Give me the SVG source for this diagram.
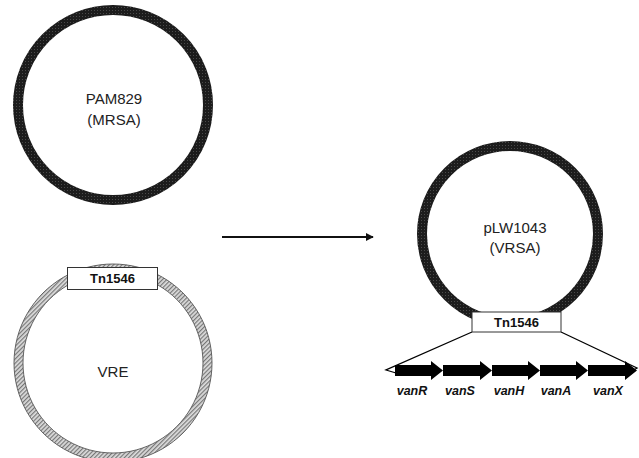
<svg xmlns="http://www.w3.org/2000/svg" width="639" height="458" viewBox="0 0 639 458">
<defs>
<pattern id="dots" width="3" height="3" patternUnits="userSpaceOnUse">
<rect width="3" height="3" fill="#1c1c1c"/>
<rect x="1" y="1" width="1" height="1" fill="#4a4a4a"/>
</pattern>
<pattern id="hatch" width="3" height="3" patternUnits="userSpaceOnUse" patternTransform="rotate(45)">
<rect width="3" height="3" fill="#dcdcdc"/>
<rect width="1.2" height="3" fill="#777"/>
</pattern>
<marker id="ah" viewBox="0 0 10 10" refX="9" refY="5" markerWidth="4" markerHeight="4" orient="auto" markerUnits="strokeWidth">
<path d="M0,0 L10,5 L0,10 Z" fill="#111"/>
</marker>
</defs>
<style>
.lbl{font-family:"Liberation Sans",Arial,sans-serif;font-size:15px;fill:#222;text-anchor:middle}
.tn{font-family:"Liberation Sans",Arial,sans-serif;font-size:13px;font-weight:bold;fill:#111;text-anchor:middle}
.gene{font-family:"Liberation Sans",Arial,sans-serif;font-size:12.5px;font-weight:bold;font-style:italic;fill:#111;text-anchor:middle}
.box{fill:#fff;stroke:#333;stroke-width:1}
.garrow{fill:#000}
</style>
<rect width="639" height="458" fill="#fff"/>

<g id="pam829">
<circle cx="113" cy="105" r="95" fill="none" stroke="url(#dots)" stroke-width="10"/>
<text class="lbl" x="114" y="104">PAM829</text>
<text class="lbl" x="114" y="125">(MRSA)</text>
</g>

<g id="vre">
<path d="M113,264 a99,99 0 1,0 0.01,0 Z M113,273 a90,90 0 1,1 -0.01,0 Z" fill="url(#hatch)" fill-rule="evenodd" stroke="#555" stroke-width="0.9"/>
<rect class="box" x="67.5" y="267.5" width="90" height="22"/>
<text class="tn" x="112.5" y="283">Tn1546</text>
<text class="lbl" x="113" y="377">VRE</text>
</g>

<g id="connectors">
<line x1="222" y1="237" x2="373" y2="237" stroke="#111" stroke-width="2" marker-end="url(#ah)"/>
<polyline points="472,332 386,370 396,373" fill="none" stroke="#000" stroke-width="1.3"/>
<polyline points="561,332 637,368 630,372" fill="none" stroke="#000" stroke-width="1.3"/>
</g>

<g id="plw1043">
<circle cx="510" cy="234" r="88" fill="none" stroke="url(#dots)" stroke-width="10"/>
<text class="lbl" x="515" y="233">pLW1043</text>
<text class="lbl" x="515" y="253">(VRSA)</text>
<rect class="box" x="472" y="312" width="89" height="20"/>
<text class="tn" x="516.5" y="327">Tn1546</text>
</g>

<g id="genes">
<path class="garrow" d="M395,365 H431 V361 L443,370.5 L431,380 V376 H395 Z"/>
<path class="garrow" d="M443,365 H480 V361 L492,370.5 L480,380 V376 H443 Z"/>
<path class="garrow" d="M492,365 H528 V361 L540,370.5 L528,380 V376 H492 Z"/>
<path class="garrow" d="M540,365 H576 V361 L588,370.5 L576,380 V376 H540 Z"/>
<path class="garrow" d="M588,365 H625 V361 L637,370.5 L625,380 V376 H588 Z"/>
<text class="gene" x="412" y="395">vanR</text>
<text class="gene" x="460" y="395">vanS</text>
<text class="gene" x="509" y="395">vanH</text>
<text class="gene" x="556" y="395">vanA</text>
<text class="gene" x="608" y="395">vanX</text>
</g>
</svg>
